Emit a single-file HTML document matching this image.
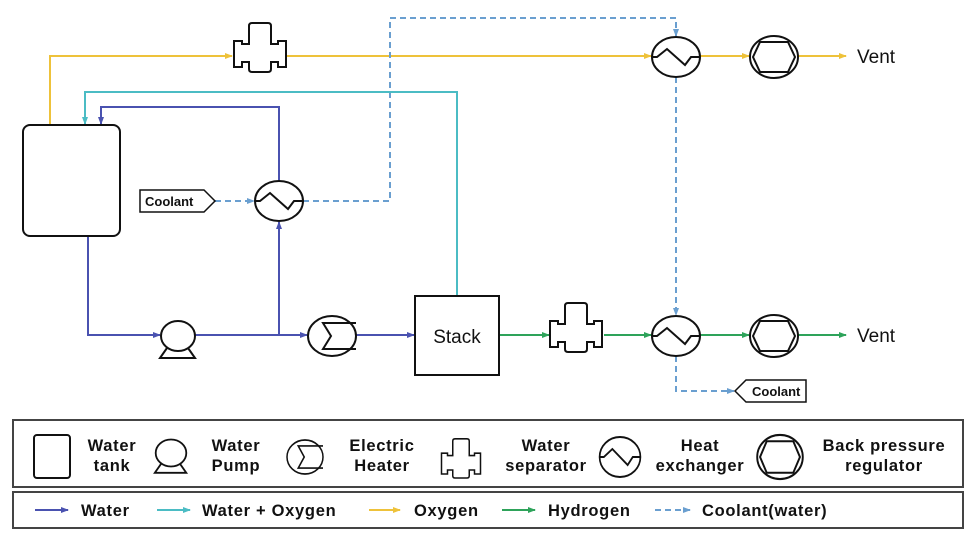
<!DOCTYPE html>
<html><head><meta charset="utf-8"><style>
html,body{margin:0;padding:0;background:#fff;}
svg{display:block;font-family:"Liberation Sans","Noto Sans CJK KR",sans-serif;}
.b{font-weight:bold;font-size:16.5px;letter-spacing:0.7px;fill:#111;}
</style></head><body>
<svg width="977" height="537" viewBox="0 0 977 537" xmlns="http://www.w3.org/2000/svg">
<defs>
<marker id="aY" markerWidth="8" markerHeight="8" refX="7" refY="4" orient="auto" markerUnits="userSpaceOnUse"><path d="M0,1 L8,4 L0,7z" fill="#eec23a"/></marker>
<marker id="aT" markerWidth="8" markerHeight="8" refX="7" refY="4" orient="auto" markerUnits="userSpaceOnUse"><path d="M0,1 L8,4 L0,7z" fill="#4bbcc4"/></marker>
<marker id="aB" markerWidth="8" markerHeight="8" refX="7" refY="4" orient="auto" markerUnits="userSpaceOnUse"><path d="M0,1 L8,4 L0,7z" fill="#4a52b0"/></marker>
<marker id="aG" markerWidth="8" markerHeight="8" refX="7" refY="4" orient="auto" markerUnits="userSpaceOnUse"><path d="M0,1 L8,4 L0,7z" fill="#2ea35a"/></marker>
<marker id="aD" markerWidth="8" markerHeight="8" refX="7" refY="4" orient="auto" markerUnits="userSpaceOnUse"><path d="M0,1 L8,4 L0,7z" fill="#6a9fd0"/></marker>
<g id="sep" fill="#fff" stroke="#111" stroke-width="2">
<path d="M-11,-21 q0,-3 3,-3 h16 q3,0 3,3 v18 h7 v-3 h8 v26 h-8 v-5 h-7 v7 q0,3 -3,3 h-16 q-3,0 -3,-3 v-7 h-7 v5 h-8 v-26 h8 v3 h7 z"/>
</g>
<g id="hx" fill="#fff" stroke="#111" stroke-width="2">
<ellipse cx="0" cy="0" rx="24" ry="20"/>
<path d="M-24,0 h5 l10,-8 l18,16 l6,-8 h9" fill="none"/>
</g>
<g id="bpr" fill="#fff" stroke="#111" stroke-width="2">
<ellipse cx="0" cy="0" rx="24" ry="21"/>
<path d="M-21,0 l7,-15 h28 l7,15 l-7,15 h-28 z"/>
</g>
<g id="htr" fill="#fff" stroke="#111" stroke-width="2">
<ellipse cx="0" cy="0" rx="24" ry="20"/>
<path d="M24,-13 h-19 h-14 l8,13 l-8,13 h14 h19" fill="none"/>
</g>
<g id="pmp" fill="#fff" stroke="#111" stroke-width="2">
<path d="M-11,12 l-7,10 h35 l-7,-10" />
<ellipse cx="0" cy="0" rx="17" ry="15"/>
</g>
</defs>

<polyline points="50,125 50,56 232,56" fill="none" stroke="#eec23a" stroke-width="2" marker-end="url(#aY)"/>
<line x1="287" y1="56" x2="651" y2="56" stroke="#eec23a" stroke-width="2" marker-end="url(#aY)"/>
<line x1="700" y1="56" x2="749" y2="56" stroke="#eec23a" stroke-width="2" marker-end="url(#aY)"/>
<line x1="798" y1="56" x2="846" y2="56" stroke="#eec23a" stroke-width="2" marker-end="url(#aY)"/>

<polyline points="215,201 254,201" fill="none" stroke="#6a9fd0" stroke-width="2" stroke-dasharray="6,4" marker-end="url(#aD)"/>
<polyline points="303,201 390,201 390,18 676,18 676,36" fill="none" stroke="#6a9fd0" stroke-width="2" stroke-dasharray="6,4" marker-end="url(#aD)"/>
<polyline points="676,77 676,315" fill="none" stroke="#6a9fd0" stroke-width="2" stroke-dasharray="6,4" marker-end="url(#aD)"/>
<polyline points="676,356 676,391 734,391" fill="none" stroke="#6a9fd0" stroke-width="2" stroke-dasharray="6,4" marker-end="url(#aD)"/>

<polyline points="457,296 457,92 85,92 85,124" fill="none" stroke="#4bbcc4" stroke-width="2" marker-end="url(#aT)"/>
<polyline points="279,181 279,107 101,107 101,124" fill="none" stroke="#4a52b0" stroke-width="2" marker-end="url(#aB)"/>
<polyline points="88,236 88,335 160,335" fill="none" stroke="#4a52b0" stroke-width="2" marker-end="url(#aB)"/>
<polyline points="195,335 279,335 279,222" fill="none" stroke="#4a52b0" stroke-width="2" marker-end="url(#aB)"/>
<polyline points="279,335 307,335" fill="none" stroke="#4a52b0" stroke-width="2" marker-end="url(#aB)"/>
<polyline points="356,335 414,335" fill="none" stroke="#4a52b0" stroke-width="2" marker-end="url(#aB)"/>
<line x1="499" y1="335" x2="549" y2="335" stroke="#2ea35a" stroke-width="2" marker-end="url(#aG)"/>
<line x1="604" y1="335" x2="651" y2="335" stroke="#2ea35a" stroke-width="2" marker-end="url(#aG)"/>
<line x1="700" y1="335" x2="749" y2="335" stroke="#2ea35a" stroke-width="2" marker-end="url(#aG)"/>
<line x1="798" y1="335" x2="846" y2="335" stroke="#2ea35a" stroke-width="2" marker-end="url(#aG)"/>

<rect x="23" y="125" width="97" height="111" rx="7" fill="#fff" stroke="#111" stroke-width="2"/>
<use href="#sep" transform="translate(260,47)"/>
<use href="#hx" transform="translate(676,57)"/>
<use href="#bpr" transform="translate(774,57)"/>
<use href="#hx" transform="translate(279,201)"/>
<use href="#pmp" transform="translate(178,336)"/>
<use href="#htr" transform="translate(332,336)"/>
<rect x="415" y="296" width="84" height="79" fill="#fff" stroke="#111" stroke-width="2"/>
<text x="457" y="343" text-anchor="middle" font-size="19" fill="#111">Stack</text>
<use href="#sep" transform="translate(576,327)"/>
<use href="#hx" transform="translate(676,336)"/>
<use href="#bpr" transform="translate(774,336)"/>
<text x="857" y="63" font-size="19" fill="#111">Vent</text>
<text x="857" y="342" font-size="19" fill="#111">Vent</text>

<path d="M140,190 h64 l11,11 l-11,11 h-64 z" fill="#fff" stroke="#111" stroke-width="1.5"/>
<text x="145" y="206" font-size="13" font-weight="bold" fill="#111">Coolant</text>
<path d="M806,380 h-60 l-11,11 l11,11 h60 z" fill="#fff" stroke="#111" stroke-width="1.5"/>
<text x="752" y="396" font-size="13" font-weight="bold" fill="#111">Coolant</text>

<rect x="13" y="420" width="950" height="67" fill="#fff" stroke="#444" stroke-width="2"/>
<rect x="13" y="492" width="950" height="36" fill="#fff" stroke="#444" stroke-width="2"/>
<rect x="34" y="435" width="36" height="43" rx="3" fill="#fff" stroke="#111" stroke-width="2"/>
<text class="b" x="112" y="451" text-anchor="middle">Water</text>
<text class="b" x="112" y="471" text-anchor="middle">tank</text>
<use href="#pmp" transform="translate(171,453) scale(0.9)"/>
<text class="b" x="236" y="451" text-anchor="middle">Water</text>
<text class="b" x="236" y="471" text-anchor="middle">Pump</text>
<use href="#htr" transform="translate(305,457) scale(0.75,0.85)"/>
<text class="b" x="382" y="451" text-anchor="middle">Electric</text>
<text class="b" x="382" y="471" text-anchor="middle">Heater</text>
<use href="#sep" transform="translate(461,458) scale(0.75,0.8)"/>
<text class="b" x="546" y="451" text-anchor="middle">Water</text>
<text class="b" x="546" y="471" text-anchor="middle">separator</text>
<use href="#hx" transform="translate(620,457) scale(0.85,1.0)"/>
<text class="b" x="700" y="451" text-anchor="middle">Heat</text>
<text class="b" x="700" y="471" text-anchor="middle">exchanger</text>
<use href="#bpr" transform="translate(780,457) scale(0.95,1.05)"/>
<text class="b" x="884" y="451" text-anchor="middle">Back pressure</text>
<text class="b" x="884" y="471" text-anchor="middle">regulator</text>

<line x1="35" y1="510" x2="68" y2="510" stroke="#4a52b0" stroke-width="2" marker-end="url(#aB)"/>
<text class="b" x="81" y="516">Water</text>
<line x1="157" y1="510" x2="190" y2="510" stroke="#4bbcc4" stroke-width="2" marker-end="url(#aT)"/>
<text class="b" x="202" y="516">Water + Oxygen</text>
<line x1="369" y1="510" x2="400" y2="510" stroke="#eec23a" stroke-width="2" marker-end="url(#aY)"/>
<text class="b" x="414" y="516">Oxygen</text>
<line x1="502" y1="510" x2="535" y2="510" stroke="#2ea35a" stroke-width="2" marker-end="url(#aG)"/>
<text class="b" x="548" y="516">Hydrogen</text>
<line x1="655" y1="510" x2="690" y2="510" stroke="#6a9fd0" stroke-width="2" stroke-dasharray="6,4" marker-end="url(#aD)"/>
<text class="b" x="702" y="516">Coolant(water)</text>
</svg>
</body></html>
